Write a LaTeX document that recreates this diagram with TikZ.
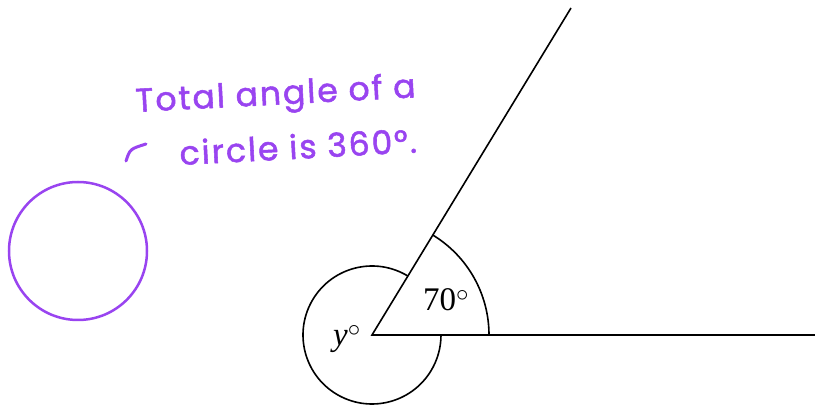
\documentclass[tikz,border=0pt]{standalone}
\usepackage{fontspec}
\setmainfont{Liberation Serif}
\newfontfamily\hand[LetterSpace=6,FakeBold=1.6]{Poppins}
\definecolor{hpurple}{RGB}{153,68,240}
\tikzset{
  geo/.style={line width=1.6pt, black},
  handtxt/.style={text=hpurple, font=\hand\fontsize{33}{40}\selectfont, anchor=base west, inner sep=0pt, rotate=3},
  lbl/.style={font=\fontsize{33}{40}\selectfont, inner sep=0pt}
}
\begin{document}
\begin{tikzpicture}[x=1pt,y=1pt]
\useasboundingbox (0,0) rectangle (815,407);
% geometry
\coordinate (O) at (372,72);
\coordinate (A) at (815,72);
\coordinate (B) at (571,399);
\draw[geo] (A) -- (O) -- (B);
\draw[geo] ([shift={(117,0)}]O) arc[start angle=0,end angle=58.67,radius=117];
\draw[geo] ([shift={(58.67:69)}]O) arc[start angle=58.67,end angle=360,radius=69];
\node[lbl] (a70) at (446,107) {70$^{\circ}$};
\node[lbl] (ay) at (347,68) {\textit{y}$^{\circ}$};
% purple annotation
\node[draw=hpurple, line width=2.5pt, circle, minimum size=138pt, inner sep=0pt] (circ) at (78,156) {};
\node[handtxt] (t1) at (136,295) {Total angle of a};
\node[handtxt] (t2) at (180,242) {circle is 360°.};
\coordinate (m1) at (126,246);
\coordinate (m2) at (146,263);
\draw[hpurple, line width=3pt, line cap=round] (m1) .. controls (130,258) .. (m2);
\end{tikzpicture}
\end{document}
